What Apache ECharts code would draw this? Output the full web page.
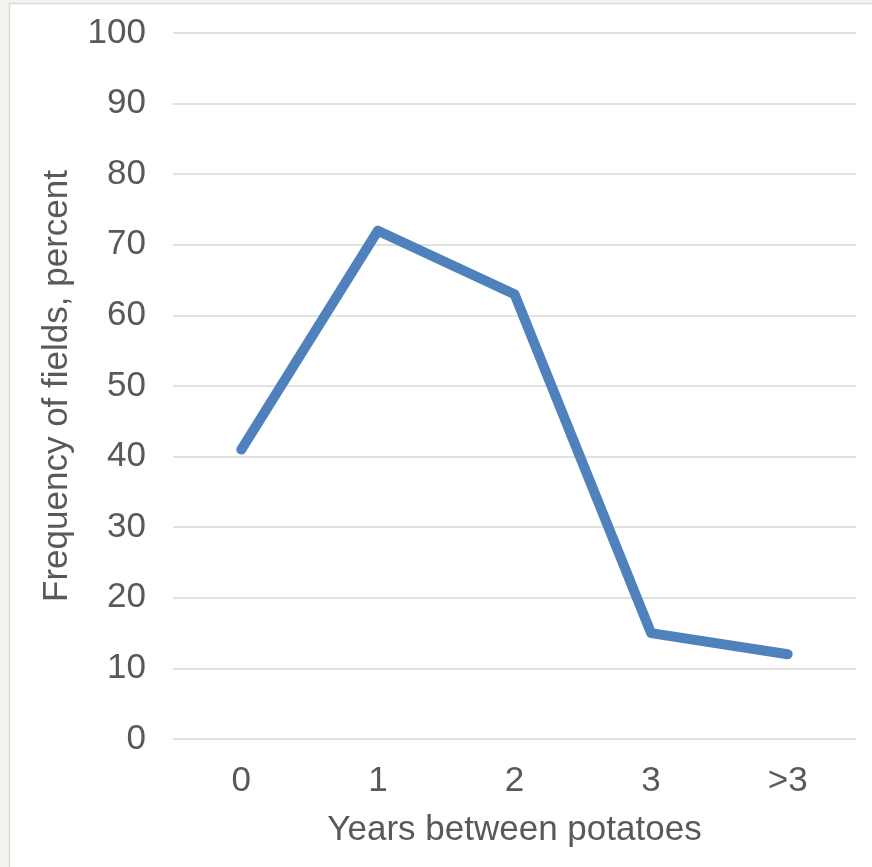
<!DOCTYPE html>
<html>
<head>
<meta charset="utf-8">
<script src="https://cdn.jsdelivr.net/npm/echarts@6/dist/echarts.min.js"></script>
<style>
html,body{margin:0;padding:0;background:#f3f3ef;}
#chart{width:872px;height:867px;}
</style>
</head>
<body>
<div id="chart"></div>
<script>
const categories = ['0', '1', '2', '3', '>3'];
const frequency = [41, 72, 63, 15, 12];
const xTitle = 'Years between potatoes';
const yTitle = 'Frequency of fields, percent';

const chart = echarts.init(document.getElementById('chart'), null, {renderer: 'canvas'});
const font = '"Liberation Sans", Arial, sans-serif';
chart.setOption({
  animation: false,
  backgroundColor: '#f3f3ef',
  graphic: [{
    type: 'rect', z: -10, silent: true,
    shape: {x: 9.5, y: 3.5, width: 880, height: 880},
    style: {fill: '#ffffff', stroke: '#d9d9d9', lineWidth: 1.5}
  }],
  grid: {left: 173, right: 16, top: 33, bottom: 128},
  xAxis: {
    type: 'category',
    data: categories,
    boundaryGap: true,
    axisLine: {show: false},
    axisTick: {show: false},
    axisLabel: {color: '#595959', fontSize: 35, fontFamily: font, margin: 25},
    name: xTitle,
    nameLocation: 'middle',
    nameGap: 74,
    nameTextStyle: {color: '#595959', fontSize: 35, fontFamily: font}
  },
  yAxis: {
    type: 'value',
    min: 0, max: 100, interval: 10,
    axisLine: {show: false},
    axisTick: {show: false},
    splitLine: {lineStyle: {color: '#d9d9d9', width: 1.5}},
    axisLabel: {color: '#595959', fontSize: 35, fontFamily: font, margin: 27},
    name: yTitle,
    nameLocation: 'middle',
    nameGap: 98,
    nameRotate: 90,
    nameTextStyle: {color: '#595959', fontSize: 35, fontFamily: font}
  },
  series: [{
    type: 'line',
    data: frequency,
    symbol: 'none',
    lineStyle: {color: '#4f81bd', width: 10, cap: 'round', join: 'round'},
    itemStyle: {color: '#4f81bd'}
  }]
});
</script>
</body>
</html>
